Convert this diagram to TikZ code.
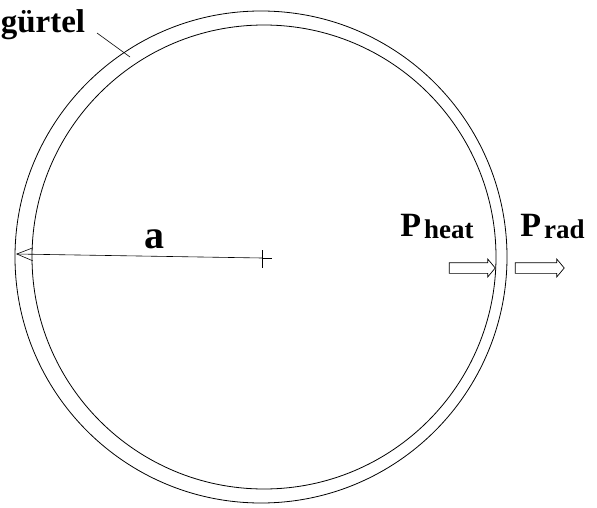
\documentclass[tikz,border=0pt]{standalone}
\usepackage{fontspec}
\setmainfont{Liberation Serif}
\usetikzlibrary{arrows.meta,shapes.arrows}
\newcommand{\subfont}{\fontsize{27}{30}\selectfont}
\tikzset{
  >={Straight Barb[length=16pt,width=13pt]},
  ring/.style={line width=0.8pt},
  lbl/.style={inner sep=0pt,font=\bfseries\fontsize{34}{38}\selectfont},
  flow/.style={single arrow,draw,line width=0.7pt,inner sep=5pt,minimum width=17pt,
    single arrow head extend=3.5pt,single arrow tip angle=100},
  every picture/.style={line width=0.6pt},
}
\begin{document}
\begin{tikzpicture}[x=1pt,y=-1pt]
\useasboundingbox (0,0) rectangle (597,508);
% the two walls of the torus
\draw[ring] (261,257) circle[radius=246pt];
\draw[ring] (264,257) circle[radius=232pt];
% labels
\node[lbl,anchor=base west] (guertel) at (0.5,33) {\fontsize{33}{36}\selectfont gürtel};
\node[lbl,anchor=base] (a) at (154,248) {\fontsize{40}{44}\selectfont a};
\node[lbl,anchor=base west] (heat) at (400,236) {P\kern3pt\raisebox{-2pt}{\subfont heat}};
\node[lbl,anchor=base west] (rad) at (520,236) {P\kern3pt\raisebox{-2pt}{\subfont rad}};
% leader and radius
\coordinate (lead) at (97,33); \coordinate (wall) at (130,57);
\coordinate (ctr) at (262,258); \coordinate (edge) at (16,254);
\draw (lead)--(wall);
\draw[->] (ctr)--(edge);
\draw (262,250)--(262,268) (ctr)--(272,258);
% power flow
\node[flow,minimum height=46pt] (pin) at (470,268) {};
\node[flow,minimum height=49pt] (pout) at (537.5,268) {};
\end{tikzpicture}
\end{document}
